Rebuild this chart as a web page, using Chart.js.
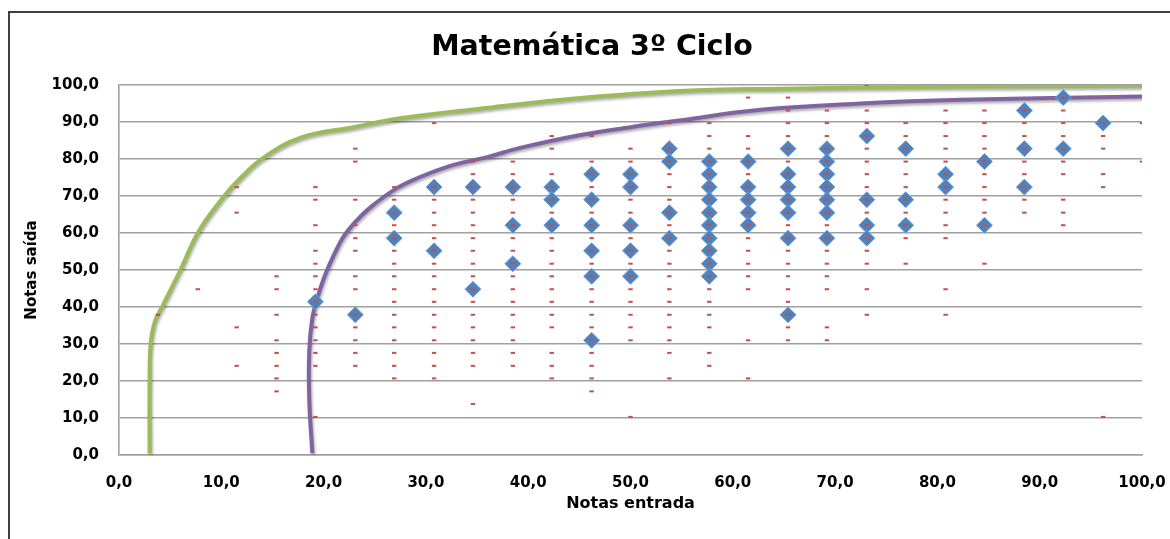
<!DOCTYPE html>
<html lang="pt">
<head>
<meta charset="utf-8">
<title>Matemática 3º Ciclo</title>
<script src="https://cdn.jsdelivr.net/npm/chart.js@4.4.0/dist/chart.umd.min.js"></script>
<style>
    html, body { margin: 0; padding: 0; background: #fff; overflow: hidden; }
    #moldura { position: absolute; left: 8px; top: 11px; width: 1170px; height: 540px; border-left: 2px solid #404040; border-top: 2px solid #404040; }
    #caixa { position: absolute; left: 0; top: 0; width: 1170px; height: 539px; }
</style>
</head>
<body>
<div id="moldura"></div>
<div id="caixa"><canvas id="grafico"></canvas></div>
<script>
// colunas de notas de entrada (eixo x)
var notasEntrada = [3.8, 7.7, 11.5, 15.4, 19.2, 23.1, 26.9, 30.8, 34.6, 38.5, 42.3, 46.2, 50.0,
    53.8, 57.7, 61.5, 65.4, 69.2, 73.1, 76.9, 80.8, 84.6, 88.5, 92.3, 96.2, 100.0];

// todas as notas de saida (tracinhos vermelhos), uma lista por coluna
var saidaTodas = [
    [37.9],
    [44.8],
    [72.4, 65.5, 34.5, 24.1],
    [48.3, 44.8, 37.9, 31.0, 27.6, 24.1, 20.7, 17.2],
    [72.4, 69.0, 62.1, 55.2, 51.7, 48.3, 44.8, 41.4, 37.9, 34.5, 31.0, 27.6, 24.1, 10.3],
    [82.8, 79.3, 69.0, 62.1, 58.6, 55.2, 48.3, 44.8, 37.9, 34.5, 31.0, 27.6, 24.1],
    [72.4, 69.0, 65.5, 62.1, 58.6, 55.2, 51.7, 48.3, 44.8, 41.4, 37.9, 34.5, 31.0, 27.6, 24.1, 20.7],
    [89.7, 72.4, 69.0, 65.5, 62.1, 58.6, 55.2, 51.7, 48.3, 44.8, 41.4, 37.9, 34.5, 31.0, 27.6, 24.1, 20.7],
    [79.3, 75.9, 72.4, 69.0, 65.5, 62.1, 58.6, 55.2, 51.7, 48.3, 44.8, 41.4, 37.9, 34.5, 31.0, 27.6, 24.1, 13.8],
    [79.3, 75.9, 72.4, 69.0, 65.5, 62.1, 58.6, 55.2, 51.7, 48.3, 44.8, 41.4, 37.9, 34.5, 31.0, 27.6, 24.1],
    [86.2, 82.8, 75.9, 72.4, 69.0, 65.5, 62.1, 58.6, 55.2, 51.7, 48.3, 44.8, 41.4, 37.9, 34.5, 27.6, 24.1, 20.7],
    [86.2, 79.3, 75.9, 72.4, 69.0, 65.5, 62.1, 58.6, 55.2, 51.7, 48.3, 44.8, 41.4, 37.9, 34.5, 31.0, 27.6, 24.1, 20.7, 17.2],
    [82.8, 79.3, 75.9, 72.4, 69.0, 65.5, 62.1, 58.6, 55.2, 51.7, 48.3, 44.8, 41.4, 37.9, 34.5, 31.0, 10.3],
    [89.7, 82.8, 79.3, 75.9, 72.4, 69.0, 65.5, 62.1, 58.6, 55.2, 51.7, 48.3, 44.8, 41.4, 37.9, 34.5, 31.0, 27.6, 20.7],
    [89.7, 86.2, 82.8, 79.3, 75.9, 72.4, 69.0, 65.5, 62.1, 58.6, 55.2, 51.7, 48.3, 44.8, 41.4, 37.9, 34.5, 27.6, 24.1],
    [96.6, 86.2, 82.8, 79.3, 75.9, 72.4, 69.0, 65.5, 62.1, 58.6, 55.2, 51.7, 48.3, 44.8, 31.0, 20.7],
    [96.6, 93.1, 89.7, 86.2, 82.8, 79.3, 75.9, 72.4, 69.0, 65.5, 62.1, 58.6, 55.2, 51.7, 48.3, 44.8, 41.4, 37.9, 34.5, 31.0],
    [93.1, 89.7, 86.2, 82.8, 79.3, 75.9, 72.4, 69.0, 65.5, 62.1, 58.6, 55.2, 51.7, 48.3, 44.8, 34.5, 31.0],
    [100.0, 93.1, 89.7, 86.2, 82.8, 79.3, 75.9, 72.4, 69.0, 65.5, 62.1, 58.6, 55.2, 51.7, 44.8, 37.9],
    [89.7, 86.2, 82.8, 79.3, 75.9, 72.4, 69.0, 65.5, 62.1, 58.6, 51.7],
    [93.1, 89.7, 86.2, 82.8, 79.3, 75.9, 72.4, 69.0, 65.5, 62.1, 58.6, 44.8, 37.9],
    [93.1, 89.7, 86.2, 82.8, 79.3, 75.9, 72.4, 69.0, 65.5, 62.1, 51.7],
    [93.1, 89.7, 86.2, 82.8, 79.3, 75.9, 72.4, 69.0, 65.5],
    [96.6, 93.1, 89.7, 86.2, 82.8, 79.3, 75.9, 69.0, 65.5, 62.1],
    [89.7, 86.2, 82.8, 75.9, 72.4, 10.3],
    [89.7, 79.3]
];

// notas em destaque (losangos azuis), mesma ordem de colunas
var saidaDestaque = [
    [], [], [], [],
    [41.4],
    [37.9],
    [65.5, 58.6],
    [72.4, 55.2],
    [72.4, 44.8],
    [72.4, 62.1, 51.7],
    [72.4, 69.0, 62.1],
    [75.9, 69.0, 62.1, 55.2, 48.3, 31.0],
    [75.9, 72.4, 62.1, 55.2, 48.3],
    [82.8, 79.3, 65.5, 58.6],
    [79.3, 75.9, 72.4, 69.0, 65.5, 62.1, 58.6, 55.2, 51.7, 48.3],
    [79.3, 72.4, 69.0, 65.5, 62.1],
    [82.8, 75.9, 72.4, 69.0, 65.5, 58.6, 37.9],
    [82.8, 79.3, 75.9, 72.4, 69.0, 65.5, 58.6],
    [86.2, 69.0, 62.1, 58.6],
    [82.8, 69.0, 62.1],
    [75.9, 72.4],
    [79.3, 62.1],
    [93.1, 82.8, 72.4],
    [96.6, 82.8],
    [89.7],
    []
];

// curva verde
var verdeX = [3.0, 3.0, 3.1, 3.5, 4.3, 6.0, 7.8, 10.2, 12.0, 14.1, 17.7, 22.9, 27.5, 35.3, 45.1, 54.9, 65.0, 80.0, 100.0];
var verdeY = [0.5, 20.0, 30.0, 36.0, 40.5, 50.0, 60.5, 69.7, 75.2, 80.3, 85.7, 88.6, 91.0, 93.6, 96.5, 98.4, 99.0, 99.5, 99.8];

// curva roxa
var roxaX = [18.9, 18.6, 18.6, 18.9, 19.4, 20.1, 21.0, 21.9, 23.1, 24.6, 27.2, 29.5, 32.7, 36.0, 39.2, 45.1, 50.0, 55.0, 62.7, 72.5, 82.3, 100.0];
var roxaY = [0.5, 15.0, 28.0, 37.0, 42.5, 48.3, 54.0, 58.8, 63.0, 67.0, 72.2, 75.2, 78.4, 80.5, 83.0, 86.5, 88.6, 90.5, 93.3, 95.0, 96.0, 96.9];

var fonte = 'DejaVu Sans';

function juntarPontos(xs, listas) {
    var pontos = [];
    for (var i = 0; i < xs.length; i++) {
        for (var j = 0; j < listas[i].length; j++) {
            pontos.push({ x: xs[i], y: listas[i][j] });
        }
    }
    return pontos;
}

function curva(xs, ys) {
    var pontos = [];
    for (var i = 0; i < xs.length; i++) {
        pontos.push({ x: xs[i], y: ys[i] });
    }
    return pontos;
}

function virgula(valor) {
    return Number(valor).toFixed(1).replace('.', ',');
}

// sombra leve por baixo das duas curvas
var sombraCurvas = {
    id: 'sombraCurvas',
    beforeDatasetDraw: function (chart, args) {
        if (args.index < 2) return;
        chart.ctx.save();
        chart.ctx.shadowColor = 'rgba(0, 0, 0, 0.35)';
        chart.ctx.shadowBlur = 3;
        chart.ctx.shadowOffsetX = 1;
        chart.ctx.shadowOffsetY = 2;
    },
    afterDatasetDraw: function (chart, args) {
        if (args.index < 2) return;
        chart.ctx.restore();
    }
};

var ctx = document.getElementById('grafico').getContext('2d');

var grafico = new Chart(ctx, {
    type: 'scatter',
    data: {
        datasets: [
            {
                label: 'Todas',
                data: juntarPontos(notasEntrada, saidaTodas),
                pointStyle: 'line',
                pointRadius: 2.2,
                pointBorderWidth: 2,
                borderColor: '#c0504d',
                pointBorderColor: '#c0504d',
                order: 0
            },
            {
                label: 'Destaque',
                data: juntarPontos(notasEntrada, saidaDestaque),
                pointStyle: 'rectRot',
                pointRadius: 8,
                pointBorderWidth: 1,
                backgroundColor: '#4f81bd',
                pointBackgroundColor: '#4f81bd',
                pointBorderColor: '#7aa0d2',
                order: 1
            },
            {
                label: 'Verde',
                data: curva(verdeX, verdeY),
                showLine: true,
                pointRadius: 0,
                borderColor: '#9bbb59',
                borderWidth: 4,
                tension: 0.4,
                order: 2
            },
            {
                label: 'Roxa',
                data: curva(roxaX, roxaY),
                showLine: true,
                pointRadius: 0,
                borderColor: '#8064a2',
                borderWidth: 4,
                tension: 0.4,
                order: 3
            }
        ]
    },
    options: {
        responsive: true,
        maintainAspectRatio: false,
        animation: false,
        layout: {
            padding: { left: 42, right: 28, top: 0, bottom: 0 }
        },
        plugins: {
            legend: { display: false },
            tooltip: { enabled: false },
            title: {
                display: true,
                text: 'Matemática 3º Ciclo',
                color: '#000',
                font: { family: fonte, size: 28.5, weight: 'bold' },
                padding: { top: 30, bottom: 20.8 }
            }
        },
        scales: {
            x: {
                type: 'linear',
                min: 0,
                max: 100,
                afterFit: function (s) {
                    s.height = 84;
                    s.paddingLeft = 0;
                    s.paddingRight = 0;
                },
                ticks: {
                    stepSize: 10,
                    padding: 19,
                    color: '#000',
                    font: { family: fonte, size: 15, weight: 'bold' },
                    callback: virgula
                },
                grid: { display: false, drawTicks: false },
                border: { display: true, color: '#a0a0a0', width: 1.6 },
                title: {
                    display: true,
                    text: 'Notas entrada',
                    color: '#000',
                    font: { family: fonte, size: 16, weight: 'bold' },
                    padding: { top: 0, bottom: 25.4 }
                }
            },
            y: {
                type: 'linear',
                min: 0,
                max: 100,
                afterFit: function (s) { s.width = 77; },
                ticks: {
                    stepSize: 10,
                    padding: 20,
                    color: '#000',
                    font: { family: fonte, size: 15, weight: 'bold' },
                    callback: virgula
                },
                grid: { color: '#a0a0a0', lineWidth: 1.6, drawTicks: false },
                border: { display: true, color: '#a0a0a0', width: 1.6 },
                title: {
                    display: true,
                    text: 'Notas saída',
                    color: '#000',
                    font: { family: fonte, size: 15, weight: 'bold' },
                    padding: { top: -19, bottom: 0 }
                }
            }
        }
    },
    plugins: [sombraCurvas]
});
</script>
</body>
</html>
